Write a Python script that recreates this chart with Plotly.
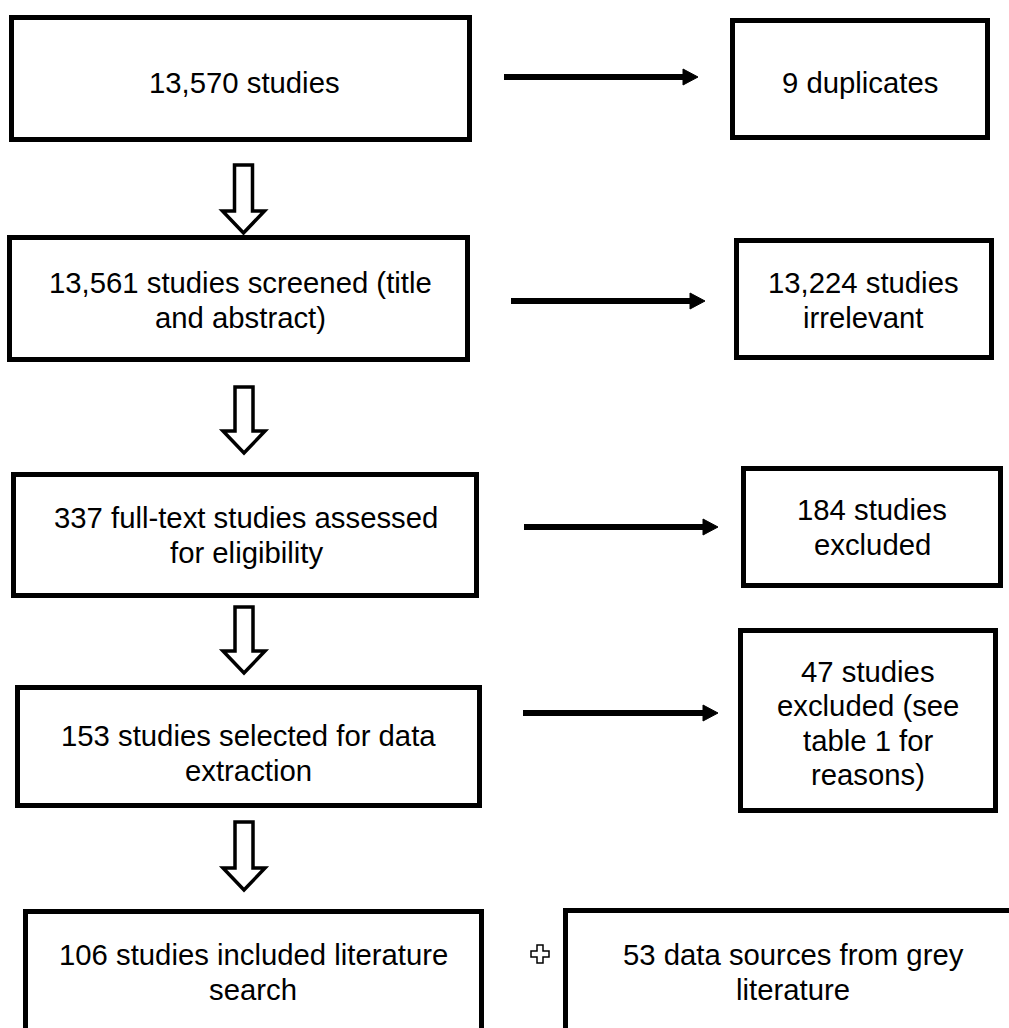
import plotly.graph_objects as go

# ---- data (flow-diagram contents) ----
main_counts = [13570, 13561, 337, 153, 106]
main_texts = [["{:,} studies"],
              ["{:,} studies screened (title", "and abstract)"],
              ["{:,} full-text studies assessed", "for eligibility"],
              ["{:,} studies selected for data", "extraction"],
              ["{:,} studies included literature", "search"]]
side_counts = [9, 13224, 184, 47]
side_texts = [["{:,} duplicates"],
              ["{:,} studies", "irrelevant"],
              ["{:,} studies", "excluded"],
              ["{:,} studies", "excluded (see", "table 1 for", "reasons)"]]
grey_count = [53]
grey_text = [["{:,} data sources from grey", "literature"]]

# ---- layout geometry (pixels, y downwards) ----
W, H = 1009, 1028
main_boxes = [(11.5, 469.5, 17.5, 139.5), (9.5, 467.5, 237.5, 359.5),
              (13.5, 476.5, 474.5, 595.5), (17.5, 479.5, 687.5, 805.5),
              (25.5, 481.5, 911.5, 1100)]
main_text_y = [82, 300, 535, 753, 972]
main_text_x = [244, 240, 246, 248, 253]
side_boxes = [(732.5, 987.5, 20.5, 137.5), (736.5, 991.5, 240.5, 357.5),
              (743.5, 1000.5, 468.5, 585.5), (740.5, 995.5, 630.5, 810.5)]
side_text_y = [82, 300, 527, 723]
side_text_x = [860, 863, 872, 868]
grey_box = (565.5, 1040, 910.5, 1100)
grey_text_pos = (793, 972)
solid_arrows = [(504, 698, 77), (511, 705, 301), (524, 718, 527), (523, 718, 713)]
hollow_arrows = [(243.5, 165, 233), (244, 387, 453), (244, 607, 673), (244, 822, 890)]
plus_pos = (540, 954)

FONT = "Liberation Sans, Arial, sans-serif"
FS = 29.3
LINE = 34.5

fig = go.Figure()
fig.add_trace(go.Scatter(x=[], y=[], mode="markers", showlegend=False))

shapes = []
annotations = []

def box(b, lw=5):
    x0, x1, y0, y1 = b
    shapes.append(dict(type="rect", xref="x", yref="y", x0=x0, x1=x1, y0=y0, y1=y1,
                       line=dict(color="black", width=lw), fillcolor="rgba(0,0,0,0)"))

def label(x, yc, lines, count):
    n = len(lines)
    for i, t in enumerate(lines):
        y = yc + (i - (n - 1) / 2) * LINE
        annotations.append(dict(x=x, y=y, xref="x", yref="y",
                                text=t.format(count) if "{" in t else t,
                                showarrow=False,
                                font=dict(family=FONT, size=FS, color="black"),
                                align="center", xanchor="center", yanchor="middle"))

for b, c, t, tx, ty in zip(main_boxes, main_counts, main_texts, main_text_x, main_text_y):
    box(b)
    label(tx, ty, t, c)

for b, c, t, tx, ty in zip(side_boxes, side_counts, side_texts, side_text_x, side_text_y):
    box(b)
    label(tx, ty, t, c)

box(grey_box)
label(grey_text_pos[0], grey_text_pos[1], grey_text[0], grey_count[0])

# solid arrows
for x0, x1, y in solid_arrows:
    hl = 15
    shapes.append(dict(type="line", xref="x", yref="y", x0=x0, x1=x1 - hl + 1, y0=y, y1=y,
                       line=dict(color="black", width=6)))
    shapes.append(dict(type="path", xref="x", yref="y",
                       path=f"M {x1-hl},{y-8} L {x1},{y} L {x1-hl},{y+8} Z",
                       fillcolor="black", line=dict(color="black", width=1)))

# hollow block arrows
for cx, top, tip in hollow_arrows:
    sw = 9      # half shaft width
    hw = 21     # half head width
    hh = 22     # head height
    hb = tip - hh
    p = (f"M {cx-sw},{top} L {cx+sw},{top} L {cx+sw},{hb} L {cx+hw},{hb} L {cx},{tip} "
         f"L {cx-hw},{hb} L {cx-sw},{hb} Z")
    shapes.append(dict(type="path", xref="x", yref="y", path=p, fillcolor="white",
                       line=dict(color="black", width=3.5)))

# outlined plus
px, py = plus_pos
a, s = 3, 9
pp = (f"M {px-a},{py-s} L {px+a},{py-s} L {px+a},{py-a} L {px+s},{py-a} L {px+s},{py+a} "
      f"L {px+a},{py+a} L {px+a},{py+s} L {px-a},{py+s} L {px-a},{py+a} L {px-s},{py+a} "
      f"L {px-s},{py-a} L {px-a},{py-a} Z")
shapes.append(dict(type="path", xref="x", yref="y", path=pp, fillcolor="white",
                   line=dict(color="black", width=1.5)))

fig.update_layout(
    width=W, height=H, margin=dict(l=0, r=0, t=0, b=0),
    paper_bgcolor="white", plot_bgcolor="white",
    xaxis=dict(range=[0, W], visible=False, fixedrange=True),
    yaxis=dict(range=[H, 0], visible=False, fixedrange=True),
    shapes=shapes, annotations=annotations, showlegend=False,
)
fig.write_html("out.html",
               config={"displayModeBar": False},
               post_script="document.body.style.margin='0';"
                           "document.body.style.overflow='hidden';")
